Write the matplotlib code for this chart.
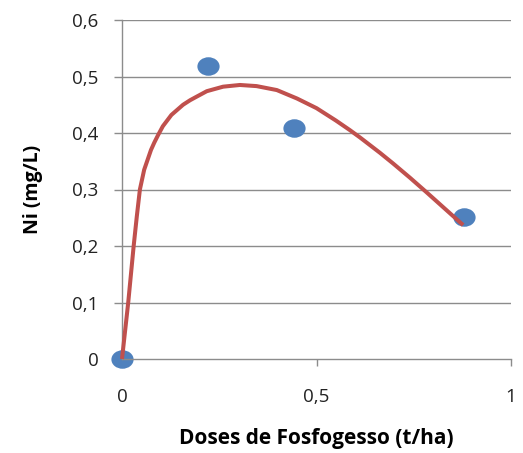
import matplotlib
matplotlib.use("Agg")
import matplotlib.pyplot as plt
from matplotlib.path import Path
from matplotlib.transforms import Affine2D

# Observed data
doses = [0.0, 0.222, 0.441, 0.88]
ni = [0.0, 0.519, 0.408, 0.252]

# Trend line
trend_x = [0.0, 0.016, 0.03, 0.038, 0.046, 0.057, 0.0745, 0.083, 0.0925, 0.105,
           0.127, 0.157, 0.175, 0.191, 0.218, 0.26, 0.303, 0.346, 0.398, 0.45,
           0.5, 0.55, 0.586, 0.612, 0.663, 0.697, 0.74, 0.783, 0.83, 0.877]
trend_y = [0.0, 0.1, 0.2, 0.252, 0.3, 0.335, 0.37, 0.383, 0.396, 0.412,
           0.432, 0.45, 0.458, 0.464, 0.474, 0.482, 0.485, 0.483, 0.476, 0.461,
           0.444, 0.422, 0.405, 0.392, 0.365, 0.346, 0.321, 0.295, 0.266, 0.237]

xticks = [0, 0.5, 1]
xtick_labels = ["0", "0,5", "1"]
yticks = [0, 0.1, 0.2, 0.3, 0.4, 0.5, 0.6]
ytick_labels = ["0", "0,1", "0,2", "0,3", "0,4", "0,5", "0,6"]

plt.rcParams['font.family'] = ['Open Sans', 'DejaVu Sans']

fig = plt.figure(figsize=(5.23, 4.53), dpi=100)
ax = fig.add_axes([122/523, 1-359/453, (511-122)/523, (359-20)/453])

grid_c = "#8c8c8c"
for y in yticks[1:]:
    ax.axhline(y, color=grid_c, lw=1.0, zorder=1)

ellipse = Path.unit_circle().transformed(Affine2D().scale(1.2, 1.0))

ax.plot(trend_x, trend_y, color="#C0504D", lw=2.9, solid_capstyle="butt",
        solid_joinstyle="round", zorder=3, clip_on=False)
ax.plot(doses, ni, linestyle="none", marker=ellipse, color="#4F81BD", ms=16, mew=0,
        zorder=2, clip_on=False)

ax.set_xlim(0, 1)
ax.set_ylim(0, 0.6)
ax.set_xticks(xticks)
ax.set_xticklabels(xtick_labels)
ax.set_yticks(yticks)
ax.set_yticklabels(ytick_labels)

for s in ["top", "right"]:
    ax.spines[s].set_visible(False)
for s in ["left", "bottom"]:
    ax.spines[s].set_color(grid_c)
    ax.spines[s].set_linewidth(1.0)

ax.tick_params(axis="y", length=6, width=1, color=grid_c, pad=11, labelsize=13.5, labelcolor="#222222")
ax.tick_params(axis="x", length=5, width=1, color=grid_c, pad=16, labelsize=13.5, labelcolor="#222222")

ax.set_ylabel("Ni (mg/L)", fontsize=14, fontweight="bold", labelpad=21)
ax.set_xlabel("Doses de Fosfogesso (t/ha)", fontsize=15, fontweight="bold", labelpad=16)

fig.savefig("out.png", dpi=100)
